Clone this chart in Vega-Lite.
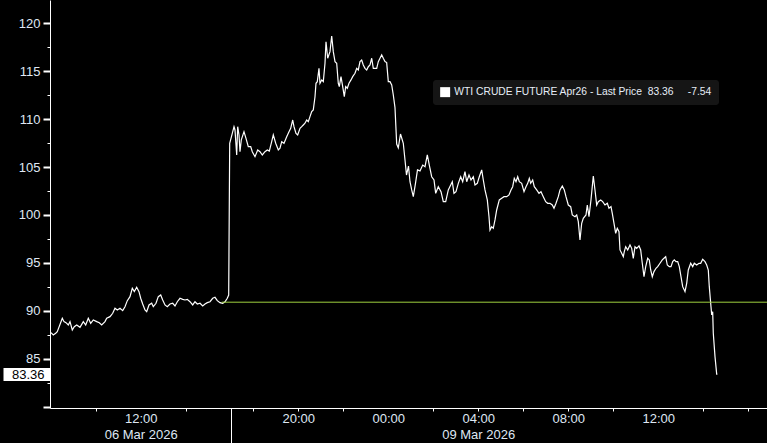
{
"$schema": "https://vega.github.io/schema/vega-lite/v6.json",
"width": 717, "height": 408,
"autosize": {"type": "none"},
"padding": {"left": 50, "top": 0, "right": 0, "bottom": 35},
"background": "#000000",
"config": {"view": {"stroke": null}, "font": "Liberation Sans"},
"datasets": {
"px": [
{"h":8.013,"p":87.72},{"h":8.116,"p":87.48},{"h":8.222,"p":87.66},{"h":8.293,"p":87.82},{"h":8.516,"p":89.22},{"h":8.591,"p":88.87},{"h":8.680,"p":88.76},{"h":8.782,"p":88.52},{"h":8.858,"p":88.87},{"h":8.960,"p":88.00},{"h":9.049,"p":88.35},{"h":9.156,"p":88.52},{"h":9.302,"p":88.28},{"h":9.449,"p":88.87},{"h":9.556,"p":88.52},{"h":9.671,"p":89.22},{"h":9.778,"p":88.70},{"h":9.893,"p":89.05},{"h":10.045,"p":88.87},{"h":10.160,"p":88.76},{"h":10.267,"p":88.52},{"h":10.413,"p":88.87},{"h":10.489,"p":89.22},{"h":10.636,"p":89.39},{"h":10.756,"p":89.74},{"h":10.858,"p":90.27},{"h":10.960,"p":90.09},{"h":11.080,"p":90.27},{"h":11.200,"p":90.02},{"h":11.302,"p":90.43},{"h":11.405,"p":91.06},{"h":11.524,"p":91.48},{"h":11.627,"p":92.35},{"h":11.716,"p":92.00},{"h":11.822,"p":92.46},{"h":11.924,"p":92.00},{"h":12.000,"p":91.31},{"h":12.089,"p":90.71},{"h":12.191,"p":90.09},{"h":12.267,"p":89.91},{"h":12.369,"p":90.61},{"h":12.489,"p":90.79},{"h":12.560,"p":90.43},{"h":12.680,"p":90.79},{"h":12.782,"p":91.48},{"h":12.889,"p":91.65},{"h":12.978,"p":91.13},{"h":13.080,"p":90.61},{"h":13.182,"p":90.43},{"h":13.302,"p":90.71},{"h":13.422,"p":90.79},{"h":13.524,"p":90.51},{"h":13.627,"p":90.95},{"h":13.747,"p":91.31},{"h":13.867,"p":91.20},{"h":13.969,"p":91.13},{"h":14.071,"p":91.20},{"h":14.191,"p":90.95},{"h":14.311,"p":90.61},{"h":14.413,"p":90.95},{"h":14.516,"p":90.71},{"h":14.636,"p":90.79},{"h":14.756,"p":90.51},{"h":14.858,"p":90.71},{"h":14.960,"p":90.85},{"h":15.080,"p":90.95},{"h":15.200,"p":91.31},{"h":15.302,"p":91.41},{"h":15.405,"p":91.06},{"h":15.524,"p":90.85},{"h":15.645,"p":90.79},{"h":15.747,"p":90.95},{"h":15.849,"p":91.31},{"h":15.911,"p":91.65},
{"h":15.956,"p":107.48},{"h":16.071,"p":108.52},{"h":16.147,"p":109.21},{"h":16.191,"p":108.87},{"h":16.267,"p":106.26},{"h":16.311,"p":109.21},{"h":16.369,"p":108.35},{"h":16.413,"p":106.60},{"h":16.471,"p":107.83},{"h":16.591,"p":108.69},{"h":16.680,"p":108.00},{"h":16.782,"p":107.13},{"h":16.889,"p":107.13},{"h":16.960,"p":106.60},{"h":17.080,"p":106.08},{"h":17.200,"p":106.78},{"h":17.302,"p":106.60},{"h":17.405,"p":106.26},{"h":17.524,"p":106.60},{"h":17.627,"p":106.78},{"h":17.716,"p":106.67},{"h":17.822,"p":107.65},{"h":17.893,"p":108.35},{"h":18.000,"p":107.48},{"h":18.116,"p":106.78},{"h":18.191,"p":106.96},{"h":18.267,"p":107.65},{"h":18.369,"p":107.48},{"h":18.489,"p":108.17},{"h":18.591,"p":108.69},{"h":18.667,"p":109.04},{"h":18.756,"p":109.91},{"h":18.813,"p":109.21},{"h":18.902,"p":108.52},{"h":18.978,"p":108.35},{"h":19.080,"p":109.04},{"h":19.156,"p":109.21},{"h":19.227,"p":109.39},{"h":19.302,"p":109.57},{"h":19.378,"p":109.91},{"h":19.449,"p":109.74},{"h":19.524,"p":110.26},{"h":19.600,"p":110.78},{"h":19.671,"p":110.96},{"h":19.747,"p":112.34},{"h":19.791,"p":113.74},{"h":19.849,"p":113.91},{"h":19.924,"p":115.30},{"h":19.969,"p":113.74},{"h":20.045,"p":114.09},{"h":20.116,"p":113.91},{"h":20.191,"p":115.83},{"h":20.236,"p":118.08},{"h":20.311,"p":116.35},{"h":20.413,"p":117.04},{"h":20.489,"p":118.67},{"h":20.560,"p":117.04},{"h":20.636,"p":116.00},{"h":20.711,"p":115.83},{"h":20.782,"p":113.74},{"h":20.827,"p":113.39},{"h":20.902,"p":114.43},{"h":20.978,"p":113.39},{"h":21.049,"p":112.34},{"h":21.111,"p":113.39},{"h":21.182,"p":113.22},{"h":21.258,"p":113.74},{"h":21.347,"p":114.09},{"h":21.422,"p":114.43},{"h":21.524,"p":114.78},{"h":21.600,"p":115.30},{"h":21.671,"p":115.13},{"h":21.747,"p":116.00},{"h":21.822,"p":116.17},{"h":21.893,"p":115.65},{"h":21.969,"p":115.30},{"h":22.045,"p":115.13},{"h":22.116,"p":115.47},{"h":22.191,"p":115.65},{"h":22.267,"p":116.35},{"h":22.338,"p":115.30},{"h":22.413,"p":115.30},{"h":22.489,"p":115.30},{"h":22.560,"p":116.00},{"h":22.636,"p":116.35},{"h":22.711,"p":116.70},{"h":22.782,"p":116.35},{"h":22.858,"p":116.00},{"h":22.933,"p":115.90},{"h":23.005,"p":113.91},{"h":23.080,"p":113.91},{"h":23.156,"p":113.56},{"h":23.227,"p":112.52},{"h":23.302,"p":111.20},{"h":23.378,"p":107.40},{"h":23.449,"p":107.00},{"h":23.547,"p":108.45},{"h":23.671,"p":107.48},{"h":23.747,"p":105.73},{"h":23.813,"p":104.17},{"h":23.902,"p":105.10},{"h":23.969,"p":103.47},{"h":24.045,"p":102.61},{"h":24.116,"p":101.91},{"h":24.213,"p":103.30},{"h":24.302,"p":104.70},{"h":24.413,"p":104.60},{"h":24.533,"p":105.21},{"h":24.636,"p":105.04},{"h":24.738,"p":106.26},{"h":24.827,"p":105.21},{"h":24.933,"p":103.99},{"h":25.036,"p":103.65},{"h":25.111,"p":102.26},{"h":25.227,"p":102.95},{"h":25.347,"p":102.43},{"h":25.449,"p":101.39},{"h":25.556,"p":101.39},{"h":25.671,"p":102.61},{"h":25.778,"p":103.13},{"h":25.849,"p":103.47},{"h":25.924,"p":102.26},{"h":26.013,"p":102.43},{"h":26.116,"p":103.30},{"h":26.222,"p":103.99},{"h":26.311,"p":103.47},{"h":26.413,"p":104.52},{"h":26.489,"p":103.47},{"h":26.591,"p":104.17},{"h":26.680,"p":103.65},{"h":26.782,"p":103.99},{"h":26.858,"p":103.13},{"h":26.960,"p":103.30},{"h":27.049,"p":103.99},{"h":27.156,"p":104.70},{"h":27.227,"p":103.65},{"h":27.302,"p":102.61},{"h":27.405,"p":101.57},{"h":27.480,"p":99.82},{"h":27.524,"p":98.43},{"h":27.600,"p":98.78},{"h":27.671,"p":98.61},{"h":27.747,"p":99.48},{"h":27.822,"p":100.52},{"h":27.938,"p":101.57},{"h":28.045,"p":101.74},{"h":28.147,"p":101.91},{"h":28.267,"p":101.91},{"h":28.369,"p":102.09},{"h":28.458,"p":102.61},{"h":28.533,"p":102.95},{"h":28.604,"p":103.83},{"h":28.680,"p":103.47},{"h":28.756,"p":103.99},{"h":28.827,"p":103.47},{"h":28.933,"p":103.30},{"h":29.036,"p":102.43},{"h":29.124,"p":102.95},{"h":29.200,"p":103.30},{"h":29.271,"p":103.83},{"h":29.333,"p":103.30},{"h":29.422,"p":103.65},{"h":29.493,"p":102.95},{"h":29.600,"p":102.61},{"h":29.702,"p":102.26},{"h":29.791,"p":102.43},{"h":29.893,"p":101.91},{"h":30.000,"p":101.39},{"h":30.089,"p":101.22},{"h":30.191,"p":101.22},{"h":30.293,"p":101.04},{"h":30.369,"p":100.70},{"h":30.458,"p":101.22},{"h":30.560,"p":101.91},{"h":30.636,"p":102.61},{"h":30.738,"p":103.02},{"h":30.827,"p":102.61},{"h":30.902,"p":101.91},{"h":31.005,"p":101.04},{"h":31.111,"p":100.87},{"h":31.182,"p":100.00},{"h":31.302,"p":99.82},{"h":31.378,"p":100.00},{"h":31.449,"p":99.30},{"h":31.524,"p":97.39},{"h":31.600,"p":99.13},{"h":31.671,"p":99.65},{"h":31.791,"p":100.00},{"h":31.849,"p":101.04},{"h":31.924,"p":99.82},{"h":32.013,"p":101.57},{"h":32.116,"p":104.07},{"h":32.191,"p":102.61},{"h":32.267,"p":101.04},{"h":32.338,"p":101.39},{"h":32.445,"p":101.57},{"h":32.533,"p":101.39},{"h":32.636,"p":101.04},{"h":32.738,"p":101.22},{"h":32.813,"p":100.70},{"h":32.902,"p":100.87},{"h":32.960,"p":100.17},{"h":33.036,"p":99.13},{"h":33.111,"p":98.09},{"h":33.182,"p":98.61},{"h":33.258,"p":98.26},{"h":33.302,"p":96.35},{"h":33.378,"p":96.00},{"h":33.449,"p":95.65},{"h":33.493,"p":96.17},{"h":33.556,"p":96.69},{"h":33.645,"p":96.35},{"h":33.747,"p":96.87},{"h":33.822,"p":96.52},{"h":33.893,"p":95.48},{"h":33.969,"p":96.69},{"h":34.045,"p":96.52},{"h":34.147,"p":96.77},{"h":34.222,"p":96.35},{"h":34.293,"p":94.96},{"h":34.369,"p":93.56},{"h":34.445,"p":94.61},{"h":34.533,"p":95.48},{"h":34.604,"p":95.31},{"h":34.667,"p":94.26},{"h":34.738,"p":93.56},{"h":34.813,"p":94.09},{"h":34.902,"p":94.44},{"h":34.978,"p":94.61},{"h":35.080,"p":94.96},{"h":35.182,"p":95.31},{"h":35.258,"p":95.48},{"h":35.333,"p":95.65},{"h":35.405,"p":94.78},{"h":35.493,"p":94.61},{"h":35.569,"p":94.61},{"h":35.645,"p":95.13},{"h":35.716,"p":95.31},{"h":35.791,"p":95.13},{"h":35.867,"p":95.13},{"h":35.938,"p":94.61},{"h":36.013,"p":93.56},{"h":36.089,"p":92.52},{"h":36.191,"p":92.00},{"h":36.267,"p":92.87},{"h":36.338,"p":94.26},{"h":36.445,"p":94.96},{"h":36.533,"p":94.61},{"h":36.604,"p":94.96},{"h":36.711,"p":94.78},{"h":36.813,"p":94.96},{"h":36.889,"p":94.96},{"h":36.978,"p":95.38},{"h":37.080,"p":95.13},{"h":37.156,"p":94.78},{"h":37.227,"p":94.26},{"h":37.271,"p":92.52},{"h":37.333,"p":90.79},{"h":37.378,"p":89.57},{"h":37.422,"p":89.91},{"h":37.449,"p":87.66},{"h":37.525,"p":85.22},{"h":37.600,"p":83.40},{"h":37.627,"p":83.36}
],
"ref": [{"h0": 15.6, "h1": 39.836, "p": 90.9}],
"last": [{"h": 37.627, "p": 83.36}]
},
"layer": [
{
"data": {"name": "px"},
"mark": {"type": "line", "strokeWidth": 1.2, "color": "#ffffff"},
"encoding": {
"x": {"field": "h", "type": "quantitative",
"scale": {"domain": [7.969, 39.836], "nice": false, "zero": false},
"axis": {"title": null, "grid": false, "orient": "bottom",
"values": [10, 12, 14, 17, 19, 21, 23, 25, 27, 29, 31, 33, 35, 37, 39],
"labelExpr": "datum.value==12?['12:00','06 Mar 2026']:datum.value==19?'20:00':datum.value==23?'00:00':datum.value==27?['04:00','09 Mar 2026']:datum.value==31?'08:00':datum.value==35?'12:00':''",
"tickSize": 3, "tickColor": "#ffffff",
"tickOpacity": {"condition": {"test": "datum.value==12||datum.value==23||datum.value==35", "value": 0}, "value": 1},
"domainColor": "#ffffff", "domainWidth": 1,
"labelColor": "#dfe7f3", "labelFont": "Liberation Sans", "labelFontSize": 13,
"labelPadding": 1, "labelLineHeight": 16, "labelFlush": false, "labelOverlap": false, "labelBound": false}},
"y": {"field": "p", "type": "quantitative",
"scale": {"domain": [79.86, 122.43], "nice": false, "zero": false},
"axis": {"title": null, "grid": false, "orient": "left",
"values": [80, 85, 90, 95, 100, 105, 110, 115, 120],
"labelExpr": "datum.value==80?'':datum.label",
"tickSize": 7, "tickWidth": 2, "tickColor": "#ffffff",
"domainColor": "#ffffff", "domainWidth": 1,
"labelColor": "#dfe7f3", "labelFont": "Liberation Sans", "labelFontSize": 13,
"labelPadding": 3, "labelOverlap": false, "labelFlush": false}},
"color": {"datum": "WTI CRUDE FUTURE Apr26", "type": "nominal", "scale": {"range": ["#ffffff"]},
"legend": {"orient": "none", "legendX": 383, "legendY": 80, "title": null,
"fillColor": "#151515", "cornerRadius": 3, "padding": 7,
"symbolType": "square", "symbolSize": 100, "symbolFillColor": "#ffffff", "symbolStrokeColor": "#ffffff", "symbolStrokeWidth": 0,
"labelColor": "#e6edf7", "labelFontSize": 10.3, "labelFont": "Liberation Sans",
"labelLimit": 600, "labelOffset": 4,
"labelExpr": "'WTI CRUDE FUTURE Apr26 - Last Price\u00a0\u00a083.36\u00a0\u00a0\u00a0\u00a0\u00a0-7.54\u00a0\u00a0\u00a0\u00a0\u00a0\u00a0'",
"symbolOpacity": 1,
"encode": {"symbols": {"update": {"fill": {"value": "#ffffff"}, "stroke": {"value": "#ffffff"}}}}}}
}
},
{
"data": {"name": "ref"},
"mark": {"type": "rule", "color": "#9fd03f", "strokeWidth": 1},
"encoding": {
"x": {"field": "h0", "type": "quantitative",
"axis": {"title": null, "grid": false, "orient": "bottom", "values": [16], "labels": false, "domain": false, "tickSize": 35, "tickColor": "#ffffff", "tickWidth": 1}},
"x2": {"field": "h1"},
"y": {"field": "p", "type": "quantitative",
"axis": {"title": null, "grid": false, "orient": "left", "values": [82.5, 87.5, 92.5, 97.5, 102.5, 107.5, 112.5, 117.5], "labels": false, "domain": false, "tickSize": 3, "tickColor": "#ffffff", "tickWidth": 1}}
}
},
{
"data": {"name": "last"},
"mark": {"type": "point", "opacity": 0},
"encoding": {
"x": {"field": "h", "type": "quantitative", "axis": null},
"y": {"field": "p", "type": "quantitative",
"axis": {"title": null, "grid": false, "orient": "left", "values": [83.36], "format": ".2f", "domain": false,
"tickSize": 47, "tickWidth": 13, "tickColor": "#ffffff",
"labelColor": "#000000", "labelFont": "Liberation Sans", "labelFontSize": 13, "labelPadding": -41, "labelBaseline": "middle"}}
}
}
],
"resolve": {"axis": {"x": "independent", "y": "independent"}}
}
